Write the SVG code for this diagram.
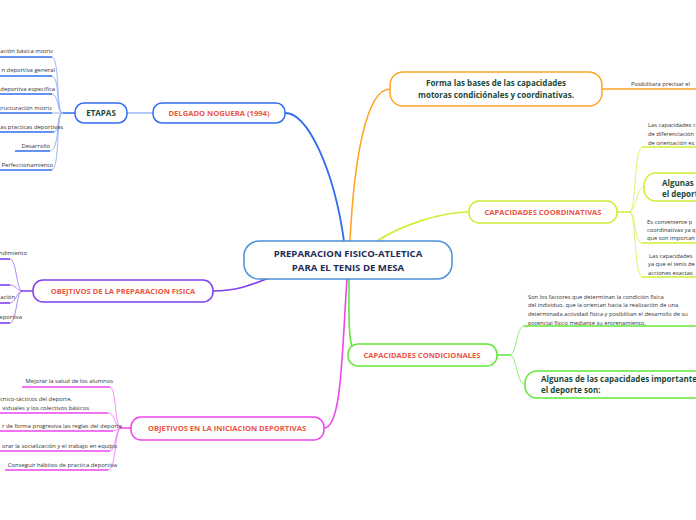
<svg xmlns="http://www.w3.org/2000/svg" width="696" height="520" viewBox="0 0 696 520">
<style>
text{font-family:"Open Sans","Noto Sans","Liberation Sans",sans-serif}
.node{fill:#fff;stroke-width:1.5}
.t{font-weight:700;font-size:7.6px;fill:#ee5544;text-anchor:middle}
.g{font-weight:700;font-size:8px;fill:#1d4a3a}
.leaf{font-size:5.9px;fill:#333}
.r{font-size:5.75px}
.e{text-anchor:end}
.c{fill:none;stroke-linecap:round}
.b{stroke:#2f6cf0}.bl{stroke:#9db8f7}
.p{stroke:#7f3ff0}.m{stroke:#ee44ee}.o{stroke:#ffa526}.y{stroke:#ccf033}.gr{stroke:#5ee83a}
.u{stroke-width:1.6;fill:none}
</style>
<rect width="696" height="520" fill="#fff"/>
<g id="connectors">
<path class="c b" stroke-width="1.8" d="M285,113 C308,113 334,170 344,241"/>
<path class="c bl" stroke-width="1.5" d="M127,113 L153,113"/>
<path class="c b" stroke-width="1.5" d="M75,113 L62,113"/>
<path class="c bl" stroke-width="1" d="M62,113 C56,113 60,57 52,57 M62,113 C56,113 60,76 52,76 M62,113 C57,113 59,94 52,94 M62,113 L52,113 M62,113 C57,113 60,132 54,132 M62,113 C56,113 60,151 50,151 M62,113 C56,113 60,170 52,170"/>
<path class="c p" stroke-width="1.6" d="M213,291 C250,291 268,275 295,270"/>
<path class="c p" stroke-width="1.5" d="M33,291 L22,291"/>
<path class="c p" stroke-width="1" stroke-opacity="0.6" d="M22,291 C16,291 17,259 10,259 M22,291 C17,291 16,285 10,285 M22,291 C17,291 16,303 10,303 M22,291 C16,291 17,323 10,323"/>
<path class="c m" stroke-width="1.6" d="M347,279 C342,350 342,428 324,428"/>
<path class="c m" stroke-width="1.5" d="M131,428 L121,428"/>
<path class="c m" stroke-width="1" stroke-opacity="0.6" d="M121,428 C114,428 117,387 110,387 M121,428 C114,428 116,413 108,413 M121,428 C117,428 117,431 113,431 M121,428 C115,428 116,451 110,451 M121,428 C114,428 117,470 108,470"/>
<path class="c o" stroke-width="1.6" d="M350,241 C354,160 366,89 390,89"/>
<path class="c o" stroke-width="1.5" d="M602,89 L696,89"/>
<path class="c y" stroke-width="1.6" d="M377,241 C400,226 440,212 469,212"/>
<path class="c y" stroke-width="1.5" d="M617,212 L630,212"/>
<path class="c y" stroke-width="1" stroke-opacity="0.7" d="M630,212 C636,212 634,147 642,147 M630,212 C636,212 636,187 644,187 M630,212 C636,212 634,243 642,243 M630,212 C636,212 634,277 642,277"/>
<path class="c gr" stroke-width="1.6" d="M349,279 C349,320 347,355 360,355"/>
<path class="c gr" stroke-width="1.5" d="M497,355 L510,355"/>
<path class="c gr" stroke-width="1" stroke-opacity="0.7" d="M510,355 C517,355 516,326 524,326 M510,355 C517,355 516,385 526,385"/>
</g>
<g id="center">
<rect class="node" x="244" y="241" width="208" height="38" rx="15" stroke="#4a90d9"/>
<text x="348" y="257" text-anchor="middle" font-weight="700" font-size="9.6" fill="#1f2d5a">PREPARACION FISICO-ATLETICA</text>
<text x="348" y="271" text-anchor="middle" font-weight="700" font-size="9.6" fill="#1f2d5a">PARA EL TENIS DE MESA</text>
</g>
<g id="delgado">
<rect class="node" x="153" y="103" width="132" height="20" rx="9" stroke="#2f6cf0"/>
<text class="t" x="219" y="116">DELGADO NOGUERA (1994)</text>
</g>
<g id="etapas">
<rect class="node" x="75" y="103" width="52" height="20" rx="9" stroke="#2f6cf0"/>
<text class="g" x="101" y="116" text-anchor="middle" font-size="7.6">ETAPAS</text>
</g>
<g id="etapas-leaves">
<text class="leaf e" x="53" y="53">ación básica motriz</text>
<path class="u b" d="M0,57 H52"/>
<text class="leaf e" x="55" y="72">n deportiva general</text>
<path class="u b" d="M0,76 H52"/>
<text class="leaf e" x="55" y="91">deportiva especifica</text>
<path class="u b" d="M0,94 H52"/>
<text class="leaf e" x="52" y="110">tructuración motriz</text>
<path class="u b" d="M0,113 H52"/>
<text class="leaf e" x="63" y="129">as practicas deportivas</text>
<path class="u b" d="M0,132 H54"/>
<text class="leaf e" x="50" y="148">Desarrollo</text>
<path class="u b" d="M15,151 H50"/>
<text class="leaf e" x="53" y="167">Perfeccionamiento</text>
<path class="u b" d="M0,170 H52"/>
</g>
<g id="obj-prep">
<rect class="node" x="33" y="280" width="180" height="22" rx="10" stroke="#7f3ff0"/>
<text class="t" x="123" y="294">OBEJTIVOS DE LA PREPARACION FISICA</text>
</g>
<g id="obj-prep-leaves">
<text class="leaf e" x="27" y="255">ndimiento</text>
<path class="u p" d="M0,259 H10"/>
<path class="u p" d="M0,285 H10"/>
<text class="leaf e" x="15" y="299">ación</text>
<path class="u p" d="M0,303 H10"/>
<text class="leaf e" x="22" y="319">eportiva</text>
<path class="u p" d="M0,323 H10"/>
</g>
<g id="obj-inic">
<rect class="node" x="131" y="417" width="193" height="23" rx="10" stroke="#ee44ee"/>
<text class="t" x="227" y="431">OBJETIVOS EN LA INICIACION DEPORTIVAS</text>
</g>
<g id="obj-inic-leaves">
<text class="leaf e" x="113" y="383">Mejorar la salud de los alumnos</text>
<path class="u m" d="M22,387 H110"/>
<text class="leaf e" x="72" y="401">cnico-tácticos del deporte,</text>
<text class="leaf e" x="89" y="410">viduales y los colectivos básicos</text>
<path class="u m" d="M0,413 H108"/>
<text class="leaf e" x="122" y="428">r de forma progresiva las reglas del deporte</text>
<path class="u m" d="M0,431 H113"/>
<text class="leaf e" x="117" y="448">orar la socialización y el trabajo en equipo</text>
<path class="u m" d="M0,451 H110"/>
<text class="leaf e" x="117" y="467">Conseguir hábitos de practica deportiva</text>
<path class="u m" d="M5,470 H108"/>
</g>
<g id="forma">
<rect class="node" x="390" y="72" width="212" height="34" rx="13" stroke="#ffa526"/>
<text class="g" x="496" y="86" text-anchor="middle">Forma las bases de las capacidades</text>
<text class="g" x="496" y="98" text-anchor="middle">motoras condiciónales y coordinativas.</text>
</g>
<g id="forma-leaf">
<text class="leaf r" x="631" y="86">Posibilitara precisar el</text>
</g>
<g id="coord">
<rect class="node" x="469" y="201" width="148" height="22" rx="10" stroke="#ccf033"/>
<text class="t" x="543" y="215">CAPACIDADES COORDINATIVAS</text>
</g>
<g id="coord-leaves">
<text class="leaf r" x="648" y="127">Las capacidades c</text>
<text class="leaf r" x="648" y="136">de diferenciación</text>
<text class="leaf r" x="648" y="145">de orientación es</text>
<path class="u y" d="M642,147 H696"/>
<text class="leaf r" x="647" y="224">Es conveniente p</text>
<text class="leaf r" x="647" y="232">coordinativas ya q</text>
<text class="leaf r" x="647" y="240">que son importan</text>
<path class="u y" d="M642,243 H696"/>
<text class="leaf r" x="649" y="258">Las capacidades</text>
<text class="leaf r" x="648" y="266">ya que el tenis de</text>
<text class="leaf r" x="648" y="275">acciones exactas</text>
<path class="u y" d="M642,277 H696"/>
</g>
<g id="coord-algunas">
<rect class="node" x="644" y="173" width="80" height="28" rx="12" stroke="#ccf033"/>
<text class="g" x="662" y="186" font-size="8.4">Algunas</text>
<text class="g" x="662" y="197" font-size="8.4">el deport</text>
</g>
<g id="cond">
<rect class="node" x="348" y="344" width="149" height="22" rx="10" stroke="#5ee83a"/>
<text class="t" x="422" y="358">CAPACIDADES CONDICIONALES</text>
</g>
<g id="cond-leaf">
<text class="leaf r" x="528" y="299">Son los factores que determinan la condición física</text>
<text class="leaf r" x="528" y="307">del individuo, que la orientan hacia la realización de una</text>
<text class="leaf r" x="528" y="316">determinada actividad física y posibilitan el desarrollo de su</text>
<text class="leaf r" x="528" y="325">potencial físico mediante su entrenamiento.</text>
<path class="u gr" d="M524,326 H696"/>
</g>
<g id="cond-algunas">
<rect class="node" x="525" y="371" width="200" height="27" rx="12" stroke="#5ee83a"/>
<text class="g" x="541" y="382" font-size="8.2">Algunas de las capacidades importante</text>
<text class="g" x="541" y="393" font-size="8.2">el deporte son:</text>
</g>
</svg>
